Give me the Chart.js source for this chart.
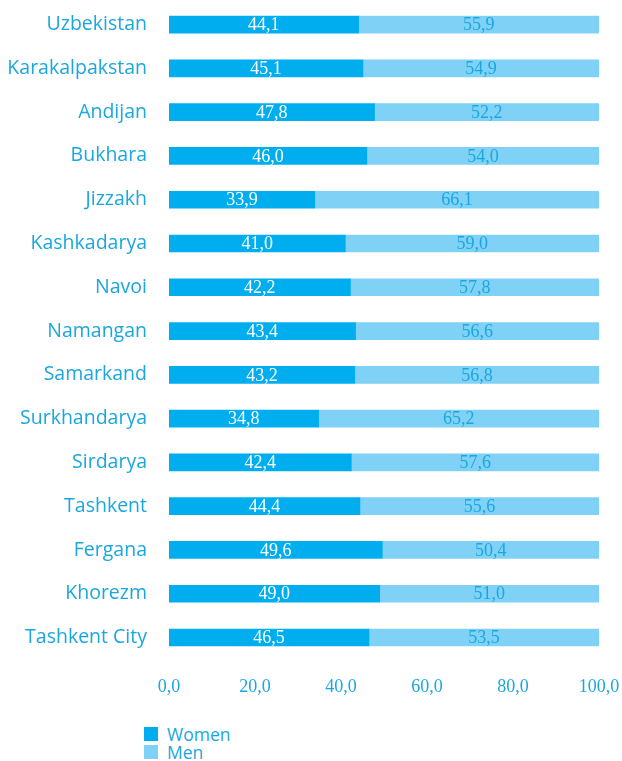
<!DOCTYPE html>
<html>
<head>
<meta charset="utf-8">
<script src="https://cdn.jsdelivr.net/npm/chart.js@4"></script>
<style>
  html, body { margin: 0; padding: 0; background: #fff; }
  #wrap { position: relative; width: 622px; height: 761px; overflow: hidden; }
  #chart-box { position: absolute; left: 0; top: -31px; width: 622px; height: 746px; }
  .legend { position: absolute; left: 144px; top: 725px; font-family: 'Open Sans', sans-serif; font-size: 17.5px; color: #1aa7e0; line-height: 18px; }
  .legend div { display: flex; align-items: center; }
  .legend span.sw { display: inline-block; width: 14px; height: 14px; margin-right: 9px; }
</style>
</head>
<body>
<div id="wrap">
  <div id="chart-box"><canvas id="c"></canvas></div>
  <div class="legend">
    <div><span class="sw" style="background:#00aeef"></span>Women</div>
    <div><span class="sw" style="background:#7fd2f5"></span>Men</div>
  </div>
</div>
<script>
const regions = ['Uzbekistan', 'Karakalpakstan', 'Andijan', 'Bukhara', 'Jizzakh', 'Kashkadarya', 'Navoi',
  'Namangan', 'Samarkand', 'Surkhandarya', 'Sirdarya', 'Tashkent', 'Fergana', 'Khorezm', 'Tashkent City'];
const women = [44.1, 45.1, 47.8, 46.0, 33.9, 41.0, 42.2, 43.4, 43.2, 34.8, 42.4, 44.4, 49.6, 49.0, 46.5];
const men = [55.9, 54.9, 52.2, 54.0, 66.1, 59.0, 57.8, 56.6, 56.8, 65.2, 57.6, 55.6, 50.4, 51.0, 53.5];
const xTicks = [0, 20, 40, 60, 80, 100];

const TEXT = '#1aa7e0';
const fmt = v => v.toFixed(1).replace('.', ',');

// draws the value in the middle of each bar segment
const barLabels = {
  id: 'barLabels',
  afterDatasetsDraw(chart) {
    const ctx = chart.ctx;
    ctx.save();
    ctx.font = '18px "Liberation Serif", serif';
    ctx.textAlign = 'center';
    ctx.textBaseline = 'middle';
    chart.data.datasets.forEach((ds, di) => {
      chart.getDatasetMeta(di).data.forEach((bar, i) => {
        const { x, base, y } = bar.getProps(['x', 'base', 'y'], true);
        ctx.fillStyle = di === 0 ? '#ffffff' : TEXT;
        ctx.fillText(fmt(ds.data[i]), (x + base) / 2, y + 1);
      });
    });
    ctx.restore();
  }
};

new Chart(document.getElementById('c'), {
  type: 'bar',
  data: {
    labels: regions,
    datasets: [
      { label: 'Women', data: women, backgroundColor: '#00aeef', barThickness: 17 },
      { label: 'Men', data: men, backgroundColor: '#7fd2f5', barThickness: 17 }
    ]
  },
  options: {
    indexAxis: 'y',
    responsive: true,
    maintainAspectRatio: false,
    animation: false,
    layout: { padding: { top: 1, right: 0, left: 0, bottom: 0 } },
    plugins: { legend: { display: false }, tooltip: { enabled: false } },
    scales: {
      x: {
        stacked: true,
        min: 0, max: 100,
        afterBuildTicks: s => { s.ticks = xTicks.map(v => ({ value: v })); },
        // the last tick label hangs past the plot, keep only ~23px for it
        afterFit: s => { s.paddingRight = 23; s.paddingLeft = 0; },
        grid: { display: false, drawTicks: false },
        border: { display: false },
        ticks: {
          color: TEXT, padding: 17,
          font: { family: '"Liberation Serif", serif', size: 18 },
          callback: v => fmt(v)
        }
      },
      y: {
        stacked: true,
        afterFit: s => { s.width = 169; },
        grid: { display: false, drawTicks: false },
        border: { display: false },
        ticks: {
          color: TEXT, padding: 22,
          font: { family: '"Open Sans", sans-serif', size: 19.5 }
        }
      }
    }
  },
  plugins: [barLabels]
});
</script>
</body>
</html>
